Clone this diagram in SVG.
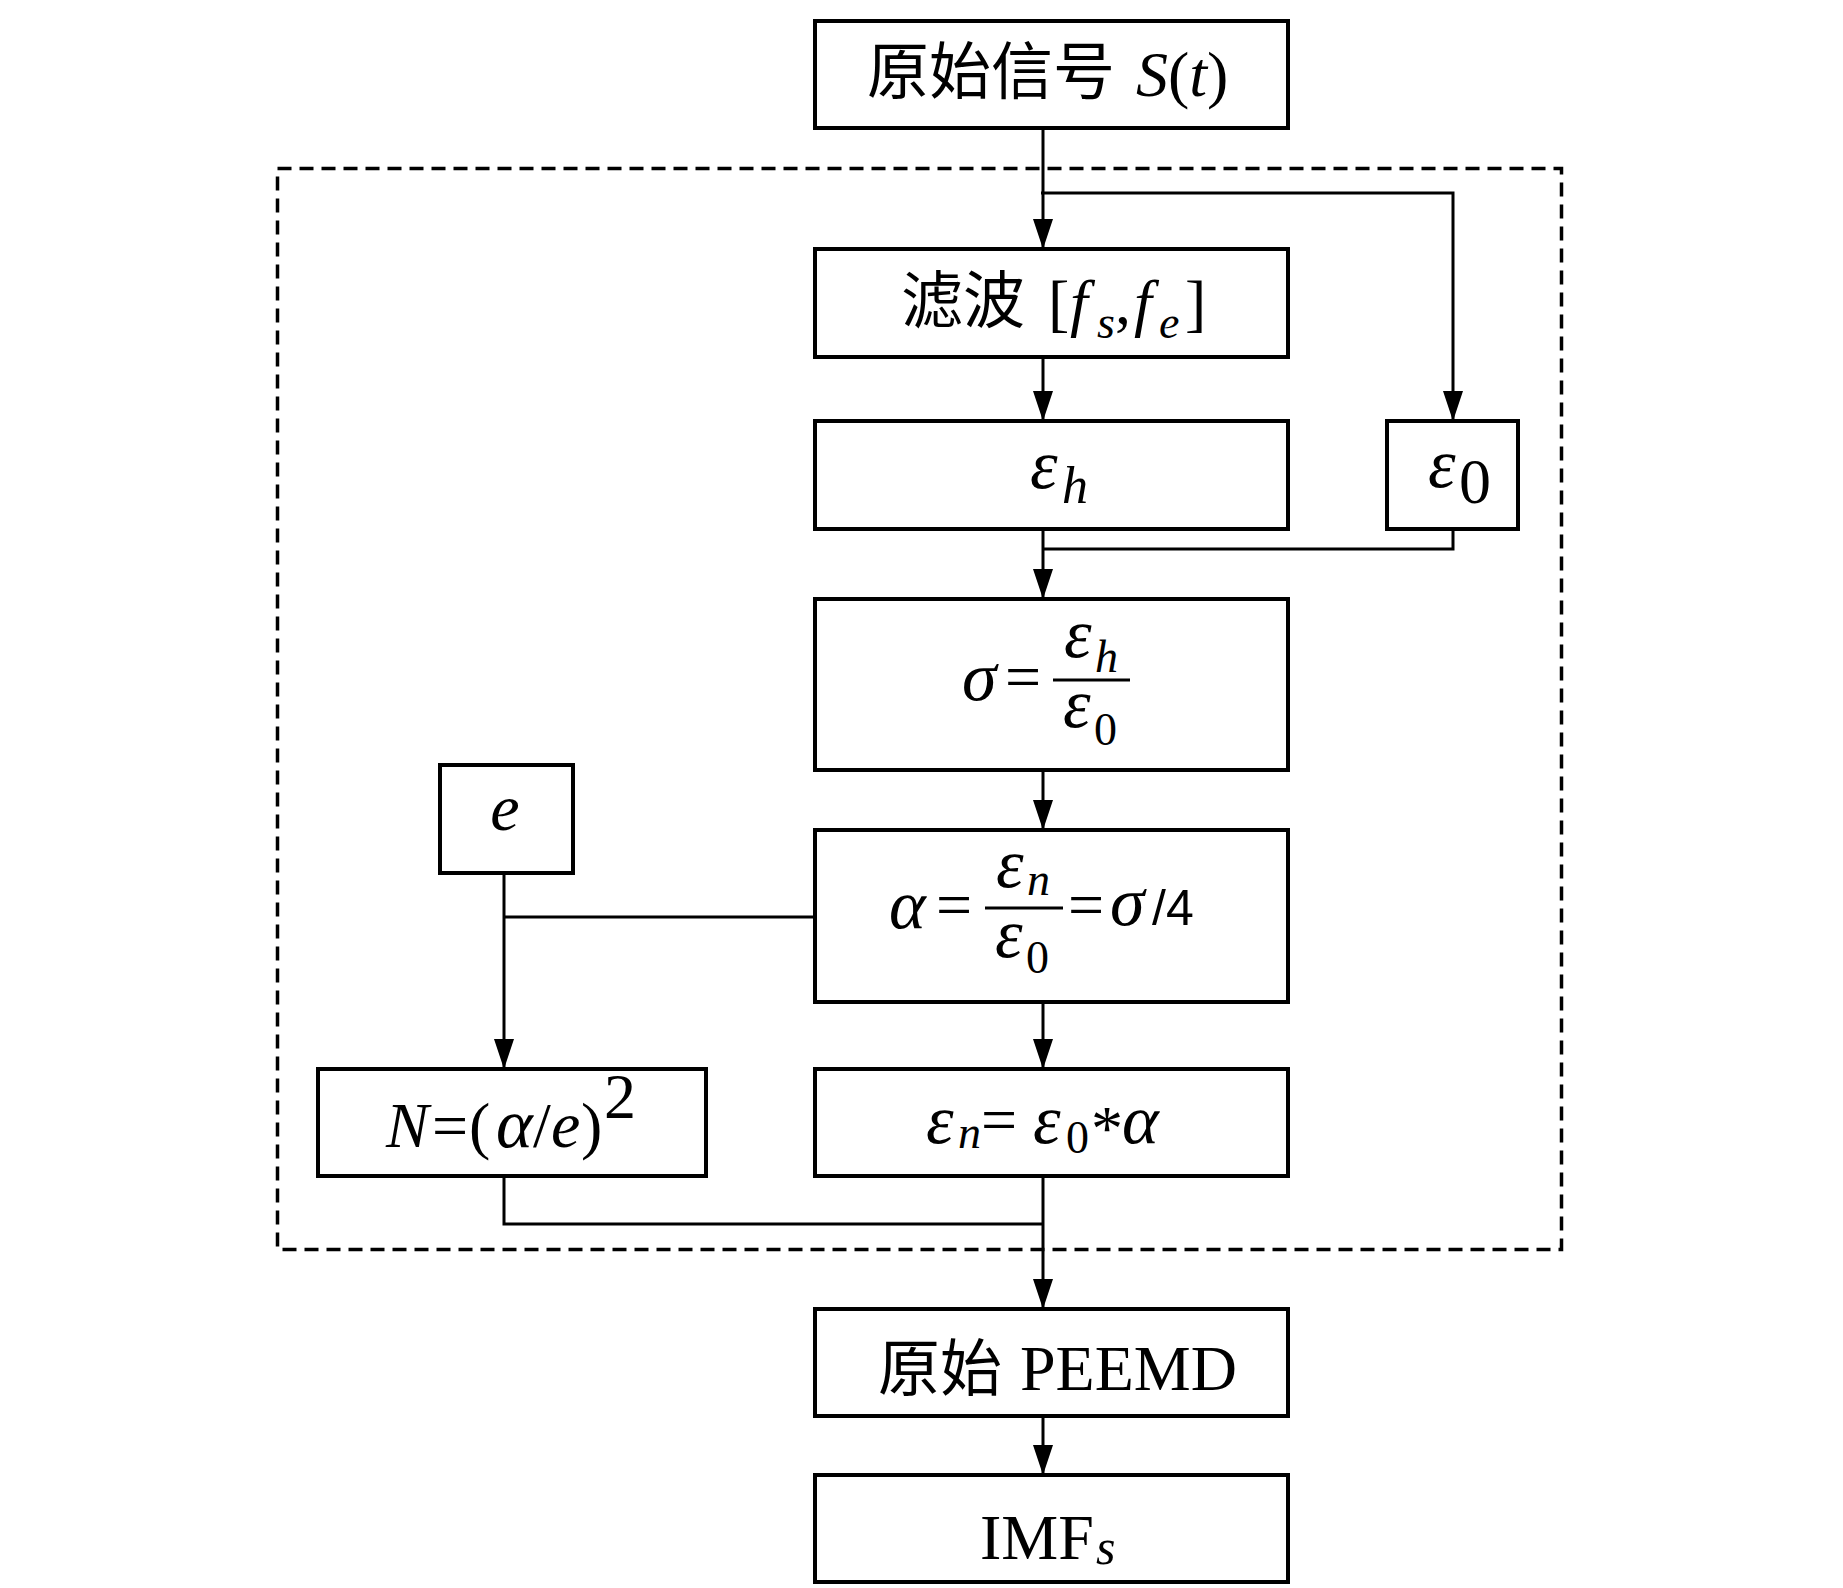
<svg xmlns="http://www.w3.org/2000/svg" width="1843" height="1588" viewBox="0 0 1843 1588">
<style>
.box{fill:#fff;stroke:#000;stroke-width:4}
.ln{fill:none;stroke:#000;stroke-width:3}
.arr{fill:none;stroke:#000;stroke-width:3;marker-end:url(#ah)}
.dash{fill:none;stroke:#000;stroke-width:3.5;stroke-dasharray:14 8}
.cjk{font-family:"Liberation Serif","Noto Sans CJK SC",serif;font-size:62px;fill:#000}
.r{font-family:"Liberation Serif",serif;font-size:64px;fill:#000}
.i{font-family:"Liberation Serif",serif;font-style:italic;fill:#000}
.g{font-family:"Liberation Serif",serif;font-style:italic;font-size:70px;fill:#000}
.sub{font-family:"Liberation Serif",serif;font-style:italic;font-size:46px;fill:#000}
.subr{font-family:"Liberation Serif",serif;font-size:46px;fill:#000}
.sans{font-family:"Liberation Sans",sans-serif;font-size:50px;fill:#000}
</style>
<defs>
<marker id="ah" markerUnits="userSpaceOnUse" markerWidth="30" markerHeight="20" refX="30" refY="10" orient="auto">
<path d="M0,0 L30,10 L0,20 z" fill="#000"/>
</marker>
</defs>
<rect width="1843" height="1588" fill="#fff"/>
<rect id="frame" class="dash" x="277.5" y="168.5" width="1284" height="1081"/>

<g id="n-signal">
<rect class="box" x="815" y="21" width="473" height="107"/>
<text class="cjk" x="867" y="94">原始信号</text>
<text class="r" x="1136" y="96"><tspan font-style="italic">S</tspan>(<tspan font-style="italic">t</tspan>)</text>
</g>

<g id="n-filter">
<rect class="box" x="815" y="249" width="473" height="108"/>
<text class="cjk" x="901" y="323">滤波</text>
<text class="r" x="1048" y="324">[</text>
<text class="i" font-size="64" x="1070" y="324">f</text>
<text class="sub" x="1097" y="338">s</text>
<text class="r" x="1115" y="324">,</text>
<text class="i" font-size="64" x="1134" y="324">f</text>
<text class="sub" x="1159" y="338">e</text>
<text class="r" x="1185" y="324">]</text>
</g>

<g id="n-eh">
<rect class="box" x="815" y="421" width="473" height="108"/>
<text class="g" x="1030" y="488">ε</text>
<text class="i" font-size="52" x="1062" y="503">h</text>
</g>

<g id="n-e0">
<rect class="box" x="1387" y="421" width="131" height="108"/>
<text class="g" x="1428" y="487">ε</text>
<text class="r" font-size="56" x="1459" y="503">0</text>
</g>

<g id="n-sigma">
<rect class="box" x="815" y="599" width="473" height="171"/>
<text class="g" font-size="72" x="962" y="700">σ</text>
<text class="r" x="1005" y="698">=</text>
<line class="ln" x1="1053" y1="680" x2="1130" y2="680"/>
<text class="g" font-size="68" x="1064" y="657">ε</text>
<text class="sub" font-size="44" x="1095" y="672">h</text>
<text class="g" font-size="68" x="1063" y="727">ε</text>
<text class="subr" x="1094" y="745">0</text>
</g>

<g id="n-alpha">
<rect class="box" x="815" y="830" width="473" height="172"/>
<text class="g" font-size="72" x="889" y="928">α</text>
<text class="r" x="936" y="926">=</text>
<line class="ln" x1="985" y1="908" x2="1063" y2="908"/>
<text class="g" font-size="68" x="996" y="887">ε</text>
<text class="sub" x="1027" y="895">n</text>
<text class="g" font-size="68" x="995" y="957">ε</text>
<text class="subr" x="1026" y="973">0</text>
<text class="r" x="1068" y="926">=</text>
<text class="g" font-size="72" x="1110" y="925">σ</text>
<text class="sans" x="1152" y="925">/4</text>
</g>

<g id="n-e">
<rect class="box" x="440" y="765" width="133" height="108"/>
<text class="i" font-size="66" x="505" y="830" text-anchor="middle">e</text>
</g>

<g id="n-N">
<rect class="box" x="318" y="1069" width="388" height="107"/>
<text class="i" font-size="64" x="386" y="1147">N</text>
<text class="r" x="432" y="1147">=</text>
<text class="r" font-size="72" x="469" y="1147">(</text>
<text class="g" font-size="72" x="496" y="1147">α</text>
<text class="r" x="533" y="1147">/</text>
<text class="i" font-size="66" x="551" y="1147">e</text>
<text class="r" font-size="72" x="581" y="1147">)</text>
<text class="r" font-size="44" x="604" y="1118">2</text>
</g>

<g id="n-en">
<rect class="box" x="815" y="1069" width="473" height="107"/>
<text class="g" font-size="68" x="926" y="1143">ε</text>
<text class="sub" x="958" y="1148">n</text>
<text class="r" x="981" y="1141">=</text>
<text class="g" font-size="68" x="1033" y="1143">ε</text>
<text class="subr" x="1066" y="1153">0</text>
<text class="r" font-size="52" x="1091" y="1150">*</text>
<text class="g" font-size="72" x="1122" y="1143">α</text>
</g>

<g id="n-peemd">
<rect class="box" x="815" y="1309" width="473" height="107"/>
<text class="cjk" x="878" y="1391">原始</text>
<text class="r" x="1020" y="1390">PEEMD</text>
</g>

<g id="n-imfs">
<rect class="box" x="815" y="1475" width="473" height="107"/>
<text class="r" font-size="63" x="980" y="1559">IMF</text>
<text class="i" font-size="50" x="1096" y="1564">s</text>
</g>

<g id="connectors">
<line class="arr" x1="1043" y1="128" x2="1043" y2="249"/>
<polyline class="arr" points="1041,193 1453,193 1453,421"/>
<line class="arr" x1="1043" y1="357" x2="1043" y2="421"/>
<line class="arr" x1="1043" y1="529" x2="1043" y2="599"/>
<polyline class="ln" points="1453,529 1453,549 1043,549"/>
<line class="arr" x1="1043" y1="770" x2="1043" y2="830"/>
<line class="ln" x1="815" y1="917" x2="504" y2="917"/>
<line class="arr" x1="504" y1="873" x2="504" y2="1069"/>
<line class="arr" x1="1043" y1="1002" x2="1043" y2="1069"/>
<polyline class="ln" points="504,1176 504,1224 1043,1224"/>
<line class="arr" x1="1043" y1="1176" x2="1043" y2="1309"/>
<line class="arr" x1="1043" y1="1416" x2="1043" y2="1475"/>
</g>
</svg>
